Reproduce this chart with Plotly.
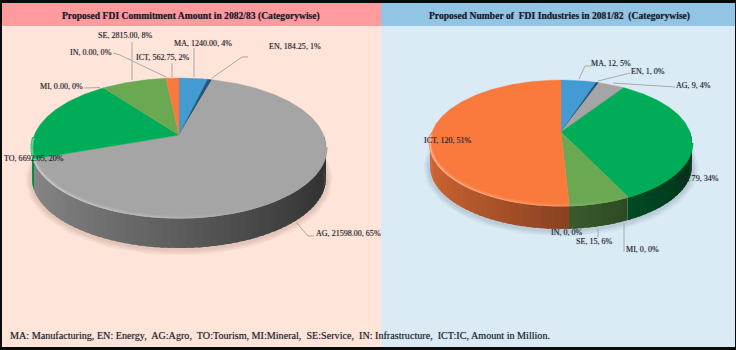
import math
import plotly.graph_objects as go

# ---------- data ----------
categories_left = ["MA", "EN", "AG", "TO", "MI", "SE", "IN", "ICT"]
values_left = [1240.00, 184.25, 21598.00, 6692.05, 0.00, 2815.00, 0.00, 562.75]
percent_left = [4, 1, 65, 20, 0, 8, 0, 2]

categories_right = ["MA", "EN", "AG", "TO", "MI", "SE", "IN", "ICT"]
values_right = [12, 1, 9, 79, 0, 15, 0, 120]
percent_right = [5, 0, 4, 34, 0, 6, 0, 51]

title_left = "Proposed FDI Commitment Amount in 2082/83 (Categorywise)"
title_right = "Proposed Number of  FDI Industries in 2081/82  (Categorywise)"
footer = ("MA: Manufacturing, EN: Energy,  AG:Agro,  TO:Tourism, MI:Mineral,  SE:Service,  "
          "IN: Infrastructure,  ICT:IC, Amount in Million.")

# ---------- styles ----------
slice_colors = {"MA": (66, 155, 210), "EN": (38, 84, 120), "AG": (165, 165, 165),
                "TO": (0, 172, 88), "MI": (90, 90, 90), "SE": (106, 168, 82),
                "IN": (90, 90, 90), "ICT": (250, 122, 62)}
TEXT = "#24242e"
FONT = "Liberation Serif"
LEADER = "#a9a9a9"
SOFT = "0 0 1px rgba(20,20,40,0.45)"

geom_left = dict(cx=179, cy=135, A=144.6, B=67.25, k=0.18, depth=31,
                 shadow="rgba(120,70,50,0.05)")
geom_right = dict(cx=561, cy=132, A=129, B=60.7, k=0.168, depth=24,
                  shadow="rgba(50,70,90,0.05)")

label_pos_left = {"SE": (125, 35), "IN": (91, 52), "ICT": (163, 57), "MA": (202.5, 43),
                  "EN": (295, 46), "MI": (61, 86), "TO": (33.5, 158), "AG": (348, 233)}
label_pos_right = {"MA": (611, 63), "EN": (648, 71.5), "AG": (693, 85), "ICT": (448, 140),
                   "TO": (698, 178), "IN": (567, 232), "SE": (594, 241), "MI": (642, 249.5)}

leaders = [
    [(132, 42), (132, 80)],
    [(113, 53), (120, 55), (166, 77)],
    [(172, 63), (172, 77)],
    [(194, 48), (194, 77)],
    [(248, 57), (242, 57), (212, 78)],
    [(84, 88), (100, 87.5)],
    [(296, 222), (308, 236), (314, 236)],
    [(579, 79), (585, 66), (591, 66)],
    [(598, 81), (630, 73)],
    [(613, 83), (675, 87)],
    [(598, 229), (598, 237)],
    [(624, 223), (624, 252)],
]


def project(g, t, drop=0.0):
    w = 1 + g["k"] * math.cos(t)
    return (g["cx"] + g["A"] * math.sin(t) / w,
            g["cy"] - g["B"] * math.cos(t) / w + drop)


def arc(g, a, b, drop=0.0, step=2.0):
    n = max(1, int(abs(b - a) / math.radians(step)))
    pts = [project(g, a + (b - a) * i / n, drop) for i in range(n + 1)]
    return [p[0] for p in pts], [p[1] for p in pts]


def rgb(c):
    return f"rgb({int(c[0])},{int(c[1])},{int(c[2])})"


def mix(c, other, f):
    return tuple(c[i] * (1 - f) + other[i] * f for i in range(3))


def draw_pie(fig, g, cats, vals):
    total = sum(vals)
    spans, start = [], 0.0
    for cat, v in zip(cats, vals):
        end = start + v / total * 2 * math.pi
        spans.append((cat, start, end))
        start = end

    def add(x, y, **kw):
        fig.add_trace(go.Scatter(x=x, y=y, mode="lines", hoverinfo="skip",
                                 showlegend=False, **kw))

    # soft shadow under the drum
    sx, sy = arc(g, 0, 2 * math.pi, drop=g["depth"] + 1)
    for w in (13, 10, 7, 4):
        add(sx, sy, line=dict(color=g["shadow"], width=w))

    # side wall bands, painted with overlap so no seams show
    band = math.radians(2.5)
    for cat, a, b in spans:
        lo, hi = max(a, math.pi / 2), min(b, 3 * math.pi / 2)
        t = lo
        while t < hi - 1e-9:
            t2 = min(t + band, hi)
            mid = (t + t2) / 2
            shade = 0.56 - 0.27 * math.sin(mid)
            col = mix(slice_colors[cat], (0, 0, 0), 1 - shade)
            x1, y1 = arc(g, t, t2 + 0.02 if t2 < hi else t2)
            x2, y2 = arc(g, t2 + 0.02 if t2 < hi else t2, t, drop=g["depth"])
            add(x1 + x2 + [x1[0]], y1 + y2 + [y1[0]], fill="toself",
                fillcolor=rgb(col), line=dict(width=0))
            t = t2

    # top face slices
    for cat, a, b in spans:
        if b - a < 1e-9:
            continue
        x, y = arc(g, a, b, step=1.0)
        add([g["cx"]] + x + [g["cx"]], [g["cy"]] + y + [g["cy"]], fill="toself",
            fillcolor=rgb(slice_colors[cat]),
            line=dict(width=0.4, color=rgb(slice_colors[cat])))

    # bevel highlight along the front rim
    for cat, a, b in spans:
        lo, hi = max(a, math.radians(100)), min(b, math.radians(268))
        t = lo
        while t < hi - 1e-9:
            t2 = min(t + band, hi)
            mid = (t + t2) / 2
            glow = max(0.0, 0.16 - 0.30 * math.sin(mid))
            col = slice_colors[cat]
            x, y = arc(g, t, t2, drop=0.0)
            add(x, y, line=dict(width=3.0, color=rgb(mix(col, (255, 255, 255), glow * 0.4))))
            x, y = arc(g, t, t2, drop=0.8)
            add(x, y, line=dict(width=1.2, color=rgb(mix(col, (255, 255, 255), glow))))
            t = t2


fig = go.Figure()

shapes = [
    dict(type="rect", x0=0, x1=381, y0=0, y1=350, fillcolor="#fee4d9", line_width=0, layer="below"),
    dict(type="rect", x0=381, x1=736, y0=0, y1=350, fillcolor="#daebf5", line_width=0, layer="below"),
    dict(type="rect", x0=0, x1=381, y0=3, y1=26, fillcolor="#ff9a9e", line_width=0, layer="below"),
    dict(type="rect", x0=381, x1=736, y0=3, y1=26, fillcolor="#92c4e4", line_width=0, layer="below"),
    dict(type="rect", x0=0, x1=736, y0=0, y1=3, fillcolor="#0a0a0a", line_width=0, layer="below"),
    dict(type="rect", x0=0, x1=2, y0=0, y1=350, fillcolor="#0a0a0a", line_width=0, layer="below"),
    dict(type="rect", x0=0, x1=736, y0=347, y1=350, fillcolor="#0a0a0a", line_width=0, layer="below"),
    dict(type="rect", x0=735, x1=736, y0=0, y1=350, fillcolor="#0a0a0a", line_width=0, layer="below"),
]

draw_pie(fig, geom_left, categories_left, values_left)
draw_pie(fig, geom_right, categories_right, values_right)

for pts in leaders:
    fig.add_trace(go.Scatter(x=[p[0] for p in pts], y=[p[1] for p in pts], mode="lines",
                             line=dict(color=LEADER, width=1), hoverinfo="skip", showlegend=False))

annotations = []


def note(x, y, text, size, color=TEXT, xanchor="center"):
    annotations.append(dict(x=x, y=y, xref="x", yref="y", text=text, showarrow=False,
                            xanchor=xanchor, yanchor="middle",
                            font=dict(family=FONT, size=size, color=color, shadow=SOFT)))


note(191, 16, f"<b>{title_left}</b>", 9.6, "#1b1b2b")
note(559, 16, f"<b>{title_right}</b>", 9.6, "#1b1b2b")
note(8, 335, footer, 10.15, "#1a1f2c", xanchor="left")

for cat, v, p in zip(categories_left, values_left, percent_left):
    note(*label_pos_left[cat], f"{cat}, {v:.2f}, {p}%", 8.05)
for cat, v, p in zip(categories_right, values_right, percent_right):
    note(*label_pos_right[cat], f"{cat}, {v}, {p}%", 8.05)

fig.update_layout(
    width=736, height=350, margin=dict(l=0, r=0, t=0, b=0),
    paper_bgcolor="#ffffff", plot_bgcolor="rgba(0,0,0,0)", showlegend=False,
    xaxis=dict(range=[0, 736], visible=False, fixedrange=True),
    yaxis=dict(range=[350, 0], visible=False, fixedrange=True),
    shapes=shapes, annotations=annotations,
)
fig.write_html("out.html", config={"displayModeBar": False},
               post_script="document.body.style.margin='0';")
